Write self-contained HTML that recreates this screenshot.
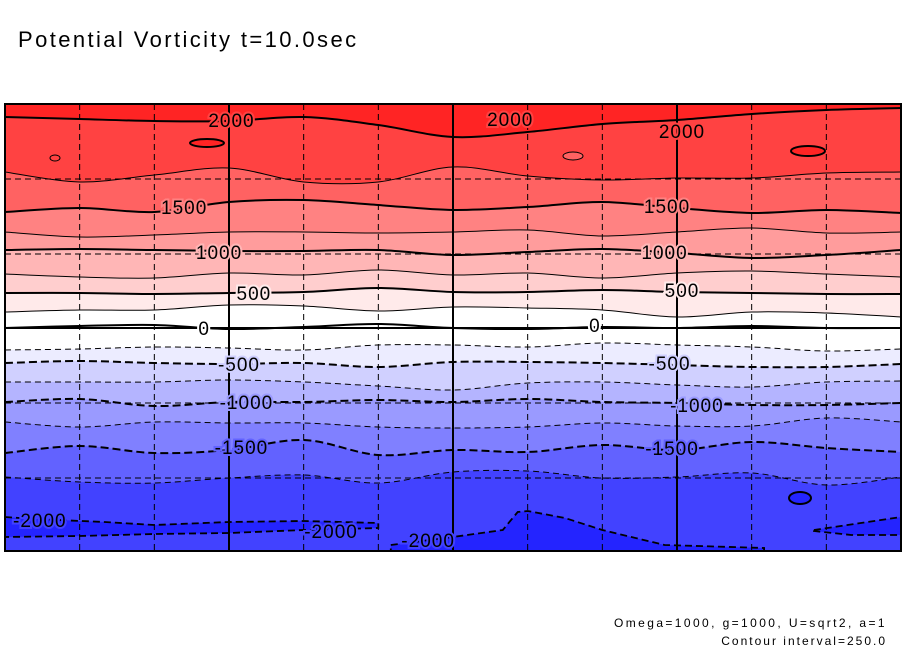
<!DOCTYPE html>
<html><head><meta charset="utf-8"><style>
body{margin:0;background:#fff;width:904px;height:654px;overflow:hidden;font-family:"Liberation Sans",sans-serif}
</style></head><body>
<svg id="chart" width="904" height="654" viewBox="0 0 904 654" xmlns="http://www.w3.org/2000/svg">
<text x="18" y="47" font-size="22" letter-spacing="2.4" font-family="Liberation Sans, sans-serif" fill="#000">Potential Vorticity t=10.0sec</text>
<clipPath id="pc"><rect x="5" y="104" width="896" height="447"/></clipPath>
<g id="plot" clip-path="url(#pc)"></g>
<g id="over"></g>
<rect x="5" y="104" width="896" height="447" fill="none" stroke="#000" stroke-width="2"/>
<text x="887" y="627" text-anchor="end" font-size="12" letter-spacing="2.4" font-family="Liberation Sans, sans-serif">Omega=1000, g=1000, U=sqrt2, a=1</text>
<text x="887" y="645" text-anchor="end" font-size="12" letter-spacing="2" font-family="Liberation Sans, sans-serif">Contour interval=250.0</text>
</svg>
<script>
const levels=[2000,1750,1500,1250,1000,750,500,250,0,-250,-500,-750,-1000,-1250,-1500,-1750];
const lons=[0,30,60,90,120,150,180,210,240,270,300,330,360];
const rows2000=[13,15,17,17,13,21,33,28,20,16,10,6,4];
const rows1750=[68,78,71,64,78,78,63,72,76,74,74,69,68];
const rows1500=[108,104,108,98,96,101,106,103,98,104,109,106,109];
const rows1250=[128,133,131,128,128,129,128,126,132,128,124,129,128];
const rows1000=[146,145,146,147,147,146,151,148,145,149,154,151,146];
const rows750=[170,173,174,169,171,166,171,169,174,169,167,170,173];
const rows500=[189,189,190,189,188,184,188,188,186,188,189,190,190];
const rows250=[208,206,206,201,202,207,203,204,206,213,208,209,213];
const rows0=[224,222,221,225,223,220,224,225,223,224,222,224,224];
const rowsM250=[246,245,243,244,246,241,241,243,239,241,243,247,245];
const rowsM500=[259,257,259,260,259,263,258,258,259,261,263,263,260];
const rowsM750=[278,278,278,276,278,282,286,279,278,281,283,278,277];
const rowsM1000=[298,295,302,298,298,296,298,295,298,299,301,301,299];
const rowsM1250=[318,323,318,319,319,323,324,323,319,322,322,314,318];
const rowsM1500=[349,342,349,346,336,351,346,348,341,346,338,344,348];
const rowsM1750=[373,378,379,374,371,379,368,367,374,373,369,381,373];
const contourRows=[rows2000,rows1750,rows1500,rows1250,rows1000,rows750,rows500,rows250,rows0,rowsM250,rowsM500,rowsM750,rowsM1000,rowsM1250,rowsM1500,rowsM1750];
const bandColors=["#ff2424","#ff4242","#ff6262","#ff8282","#ff9c9c","#ffb6b6","#ffcece","#ffeaea","#ffffff","#ffffff","#ececff","#d0d0ff","#b4b4ff","#9a9aff","#8080ff","#6262ff","#4242ff"];
const deepLon=[[0,12,40,60,90,120,150,150,120,90,60,30,0],[155,180,200,206,210,225,240,265,305,305,155],[325,360,360,340,325]];
const deepRow=[[413,415,418,421,418,417,419,424,426,429,430,432,433],[441,433,426,408,407,414,426,441,444,447,447],[426,413,431,431,427]];
const labelVals=[2000,2000,2000,1500,1500,1000,1000,500,500,0,0,-500,-500,-1000,-1000,-1500,-1500,-2000,-2000,-2000];
const labelLon=[91,203,272,72,266,86,265,100,272,80,237,94,267,97,278,95,268,14,131,170];
const labelRow=[16,15,27,103,102,148,148,189,186,224,221,260,259,298,301,343,344,416,427,436];
const labelBand=[1,1,1,3,3,5,5,7,7,8,8,11,11,13,13,15,15,16,16,16];
const X0=5,W=896,Y0=104;
function xAxis(l){return X0+l/360*W;}
function yAxis(r){return Y0+r;}
const NS="http://www.w3.org/2000/svg";
const plot=document.getElementById('plot'),over=document.getElementById('over');
function curve(rows){
  const p=lons.map((l,i)=>[xAxis(l),yAxis(rows[i])]);
  let d="M"+p[0][0]+","+p[0][1];
  for(let i=0;i<p.length-1;i++){
    const a=p[Math.max(0,i-1)],b=p[i],c=p[i+1],e=p[Math.min(p.length-1,i+2)];
    d+=" C"+(b[0]+(c[0]-a[0])/6).toFixed(1)+","+(b[1]+(c[1]-a[1])/6).toFixed(1)+" "+(c[0]-(e[0]-b[0])/6).toFixed(1)+","+(c[1]-(e[1]-b[1])/6).toFixed(1)+" "+c[0].toFixed(1)+","+c[1].toFixed(1);
  }
  return d;
}
const bg=document.createElementNS(NS,'rect');


bg.setAttribute('x',X0);bg.setAttribute('y',Y0);bg.setAttribute('width',W);bg.setAttribute('height',447);bg.setAttribute('fill',bandColors[0]);
plot.appendChild(bg);
contourRows.forEach((rows,i)=>{
  const f=document.createElementNS(NS,'path');
  
  
  f.setAttribute('d',curve(rows)+" L"+(X0+W)+",560 L"+X0+",560 Z");
  f.setAttribute('fill',bandColors[i+1]);
  plot.appendChild(f);
});
deepLon.forEach((ls,k)=>{
  const pts=ls.map((l,i)=>xAxis(l).toFixed(1)+","+yAxis(deepRow[k][i]));
  const g=document.createElementNS(NS,'polygon');
  
  
  g.setAttribute('points',pts.join(" "));
  g.setAttribute('fill','#2424ff');g.setAttribute('stroke','#000');g.setAttribute('stroke-width','1.8');g.setAttribute('stroke-dasharray','7,4');
  plot.appendChild(g);
});
[[207,143,17,4,'#ff2424',2],[808,151,17,5,'#ff2424',2],[55,158,5,3,'#ff4242',1],[573,156,10,4,'#ff6262',1],[800,498,11,6,'#2424ff',2]].forEach(o=>{
  const e=document.createElementNS(NS,'ellipse');
  
  
  e.setAttribute('cx',o[0]);e.setAttribute('cy',o[1]);e.setAttribute('rx',o[2]);e.setAttribute('ry',o[3]);
  e.setAttribute('fill',o[4]);e.setAttribute('stroke','#000');e.setAttribute('stroke-width',o[5]);
  plot.appendChild(e);
});
for(let i=1;i<12;i++){
  const x=X0+i*W/12,solid=(i%3===0);
  const ln=document.createElementNS(NS,'line');
  
  
  ln.setAttribute('x1',x);ln.setAttribute('x2',x);ln.setAttribute('y1',Y0);ln.setAttribute('y2',Y0+447);
  ln.setAttribute('stroke','#000');ln.setAttribute('stroke-width',solid?2:1);
  if(!solid)ln.setAttribute('stroke-dasharray','6,4');
  plot.appendChild(ln);
}
[75,150,299,374].forEach(r=>{
  const ln=document.createElementNS(NS,'line');
  
  
  ln.setAttribute('x1',X0);ln.setAttribute('x2',X0+W);ln.setAttribute('y1',Y0+r);ln.setAttribute('y2',Y0+r);
  ln.setAttribute('stroke','#000');ln.setAttribute('stroke-width',1);ln.setAttribute('stroke-dasharray','6,4');
  plot.appendChild(ln);
});
const eq=document.createElementNS(NS,'line');


eq.setAttribute('x1',X0);eq.setAttribute('x2',X0+W);eq.setAttribute('y1',328);eq.setAttribute('y2',328);eq.setAttribute('stroke','#000');eq.setAttribute('stroke-width',2);
plot.appendChild(eq);
contourRows.forEach((rows,i)=>{
  const v=levels[i];
  const c=document.createElementNS(NS,'path');
  
  
  c.setAttribute('d',curve(rows));
  c.setAttribute('fill','none');c.setAttribute('stroke','#000');
  c.setAttribute('stroke-width',(v%500===0)?2:1);
  if(v<0)c.setAttribute('stroke-dasharray',(v%500===0)?'8,4':'6,4');
  plot.appendChild(c);
});
labelVals.forEach((v,i)=>{
  const t=document.createElementNS(NS,'text');
  
  
  t.setAttribute('x',xAxis(labelLon[i]));t.setAttribute('y',yAxis(labelRow[i])+7);
  t.setAttribute('text-anchor','middle');t.setAttribute('font-size','19');
  t.setAttribute('letter-spacing','1');
  t.setAttribute('font-family','Liberation Sans, sans-serif');
  t.setAttribute('stroke',bandColors[labelBand[i]]);t.setAttribute('stroke-width','4');t.setAttribute('paint-order','stroke');
  t.textContent=v;
  over.appendChild(t);
});
</script>
</body></html>
